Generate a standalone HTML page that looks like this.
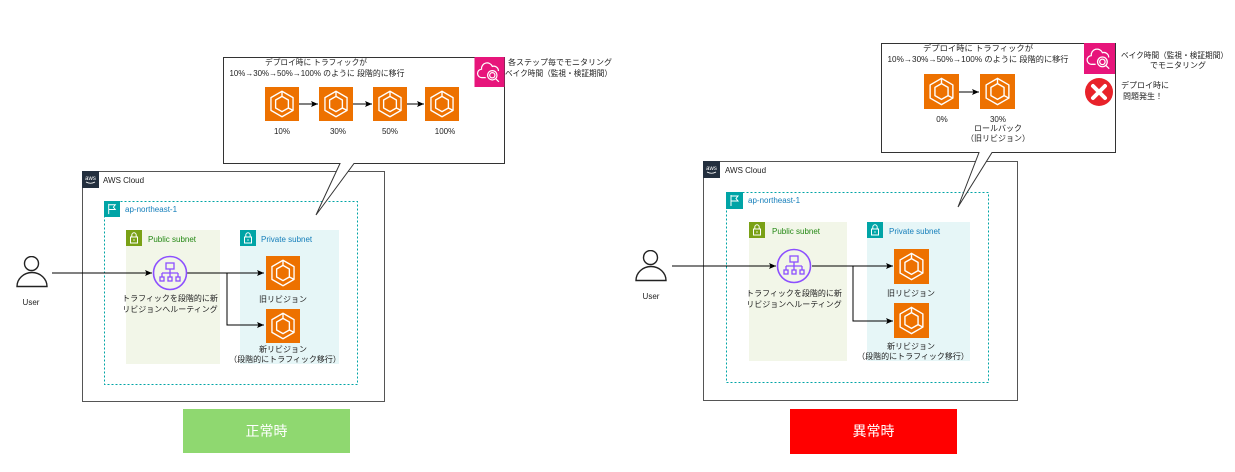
<!DOCTYPE html>
<html><head><meta charset="utf-8"><style>
html,body{margin:0;padding:0;background:#fff;width:1235px;height:472px;overflow:hidden}
svg{display:block}
text{font-family:"Liberation Sans","Noto Sans CJK JP",sans-serif;font-size:8px;fill:#222}
</style></head><body>
<svg xmlns="http://www.w3.org/2000/svg" width="1235" height="472" viewBox="0 0 1235 472">
<defs>
<symbol id="ecs" viewBox="0 0 40 40">
<rect width="40" height="40" fill="#ed7100"/>
<g fill="none" stroke="#fff" stroke-width="1.6" stroke-linejoin="round">
<path d="M20 5 L33 12.5 V27.5 L20 35 L7 27.5 V12.5 Z"/>
<path d="M20 11 L27.5 15.3 V24.7 L20 29 L12.5 24.7 V15.3 Z"/>
<path d="M20 5 V11 M33 27.5 L27.5 24.7"/>
</g></symbol>
<symbol id="elb" viewBox="0 0 36 36">
<circle cx="18" cy="18" r="16.5" fill="none" stroke="#8c4fff" stroke-width="1.6"/>
<g fill="none" stroke="#8c4fff" stroke-width="1.3">
<rect x="14" y="8" width="8" height="6"/>
<path d="M18 14 V18 M10 18 H26 M10 18 V22 M18 18 V22 M26 18 V22"/>
<rect x="8" y="22" width="4" height="4"/><rect x="16" y="22" width="4" height="4"/><rect x="24" y="22" width="4" height="4"/>
</g></symbol>
<symbol id="cw" viewBox="0 0 32 32">
<rect width="32" height="32" fill="#e7157b"/>
<g fill="none" stroke="#fff" stroke-width="1.3">
<path d="M12 22 H8 A4.5 4.5 0 0 1 7.5 13 A6 6 0 0 1 19 10 A5 5 0 0 1 25.5 15"/>
<circle cx="19" cy="19.5" r="5"/><circle cx="19" cy="19.5" r="2.8"/>
<path d="M22.5 23 L26 26.5"/>
</g></symbol>
<symbol id="lockg" viewBox="0 0 16 16"><rect width="16" height="16" fill="#7aa116"/><g fill="none" stroke="#fff" stroke-width="1"><rect x="4.5" y="7" width="7" height="6"/><path d="M5.8 7 V5 A2.2 2.2 0 0 1 10.2 5 V7"/><path d="M8 9.3 V10.8"/></g></symbol>
<symbol id="lockt" viewBox="0 0 16 16"><rect width="16" height="16" fill="#00a4a6"/><g fill="none" stroke="#fff" stroke-width="1"><rect x="4.5" y="7" width="7" height="6"/><path d="M5.8 7 V5 A2.2 2.2 0 0 1 10.2 5 V7"/><path d="M8 9.3 V10.8"/></g></symbol>
<symbol id="flag" viewBox="0 0 17 17"><rect width="17" height="17" fill="#00a4a6"/><g fill="none" stroke="#fff" stroke-width="1"><path d="M5 3 V14 M5 4 H12 L10 6.5 L12 9 H5"/></g></symbol>
<symbol id="aws" viewBox="0 0 17 17"><rect width="17" height="17" fill="#232f3e"/><text x="8.5" y="9" text-anchor="middle" style="font-size:6px;fill:#fff">aws</text><path d="M4 11 Q8.5 13.5 13 11" fill="none" stroke="#fff" stroke-width="0.8"/></symbol>
<symbol id="user" viewBox="0 0 32 32"><g fill="none" stroke="#222" stroke-width="1.4"><circle cx="15.5" cy="7.5" r="7"/><path d="M1 30.5 A15 14 0 0 1 31 30.5 Z"/></g></symbol>
<marker id="ah" markerWidth="8" markerHeight="8" refX="7" refY="4" orient="auto" markerUnits="userSpaceOnUse"><path d="M0,1 L7,4 L0,7 L1.5,4 Z" fill="#000"/></marker>
</defs>

<!-- ================= LEFT ================= -->
<rect x="82.5" y="171.5" width="302" height="230" fill="#fff" stroke="#555" stroke-width="1"/>
<use href="#aws" x="82" y="171" width="17" height="17"/>
<text x="103" y="183">AWS Cloud</text>
<rect x="104.5" y="201.5" width="253" height="183" fill="none" stroke="#00a4a6" stroke-width="1" stroke-dasharray="2,2"/>
<use href="#flag" x="104" y="201" width="16" height="16"/>
<text x="125" y="212" style="fill:#147eba">ap-northeast-1</text>
<rect x="126" y="230" width="94" height="134" fill="#f2f6e8"/>
<use href="#lockg" x="126" y="230" width="16" height="16"/>
<text x="148" y="242" style="fill:#248814">Public subnet</text>
<rect x="240" y="230" width="99" height="134" fill="#e6f6f7"/>
<use href="#lockt" x="240" y="230" width="16" height="16"/>
<text x="261" y="242" style="fill:#147eba">Private subnet</text>

<use href="#user" x="16" y="256" width="32" height="32"/>
<text x="31" y="305" text-anchor="middle">User</text>

<g fill="none" stroke="#000" stroke-width="1">
<path d="M52 273 H152" marker-end="url(#ah)"/>
<path d="M187 273 H264" marker-end="url(#ah)"/>
<path d="M227 273 V325 H264" marker-end="url(#ah)"/>
</g>
<use href="#elb" x="152" y="255" width="36" height="36"/>
<text x="170" y="301" text-anchor="middle">トラフィックを段階的に新</text>
<text x="170" y="312" text-anchor="middle">リビジョンへルーティング</text>

<use href="#ecs" x="266" y="256" width="34" height="34"/>
<text x="283" y="302" text-anchor="middle">旧リビジョン</text>
<use href="#ecs" x="266" y="309" width="34" height="34"/>
<text x="283" y="352" text-anchor="middle">新リビジョン</text>
<text x="285" y="362" text-anchor="middle">（段階的にトラフィック移行）</text>

<rect x="183" y="409" width="167" height="44" fill="#8fd870"/>
<text x="266.5" y="436" text-anchor="middle" style="font-size:14px;fill:#fff">正常時</text>

<!-- left callout -->
<path d="M223.5 57.5 H504.5 V163.5 H354 L316 215 L340 163.5 H223.5 Z" fill="#fff" stroke="#333" stroke-width="1"/>
<use href="#cw" x="474" y="57" width="31" height="30"/>
<text x="316" y="65" text-anchor="middle" textLength="102" lengthAdjust="spacingAndGlyphs">デプロイ時に トラフィックが</text>
<text x="317" y="76" text-anchor="middle" textLength="175" lengthAdjust="spacingAndGlyphs">10%→30%→50%→100% のように 段階的に移行</text>
<text x="508" y="65" textLength="104" lengthAdjust="spacingAndGlyphs">各ステップ毎でモニタリング</text>
<text x="505" y="76" textLength="107" lengthAdjust="spacingAndGlyphs">ベイク時間（監視・検証期間）</text>
<use href="#ecs" x="265" y="87" width="34" height="34"/>
<use href="#ecs" x="319" y="87" width="34" height="34"/>
<use href="#ecs" x="373" y="87" width="34" height="34"/>
<use href="#ecs" x="425" y="87" width="34" height="34"/>
<g fill="none" stroke="#000" stroke-width="1">
<path d="M299 104 H318" marker-end="url(#ah)"/>
<path d="M353 104 H372" marker-end="url(#ah)"/>
<path d="M407 104 H424" marker-end="url(#ah)"/>
</g>
<text x="282" y="134" text-anchor="middle">10%</text>
<text x="338" y="134" text-anchor="middle">30%</text>
<text x="390" y="134" text-anchor="middle">50%</text>
<text x="445" y="134" text-anchor="middle">100%</text>

<!-- ================= RIGHT ================= -->
<rect x="703.5" y="161.5" width="314" height="239" fill="#fff" stroke="#555" stroke-width="1"/>
<use href="#aws" x="703" y="161" width="17" height="17"/>
<text x="725" y="173">AWS Cloud</text>
<rect x="726.5" y="192.5" width="262" height="190" fill="none" stroke="#00a4a6" stroke-width="1" stroke-dasharray="2,2"/>
<use href="#flag" x="726" y="192" width="17" height="17"/>
<text x="748" y="203" style="fill:#147eba">ap-northeast-1</text>
<rect x="749" y="222" width="98" height="139" fill="#f2f6e8"/>
<use href="#lockg" x="749" y="222" width="16" height="16"/>
<text x="772" y="234" style="fill:#248814">Public subnet</text>
<rect x="867" y="222" width="103" height="139" fill="#e6f6f7"/>
<use href="#lockt" x="867" y="222" width="16" height="16"/>
<text x="889" y="234" style="fill:#147eba">Private subnet</text>

<use href="#user" x="635" y="250" width="32" height="32"/>
<text x="651" y="299" text-anchor="middle">User</text>

<g fill="none" stroke="#000" stroke-width="1">
<path d="M672 266 H776" marker-end="url(#ah)"/>
<path d="M812 266 H893" marker-end="url(#ah)"/>
<path d="M853 266 V321 H893" marker-end="url(#ah)"/>
</g>
<use href="#elb" x="776" y="248" width="36" height="36"/>
<text x="794" y="296" text-anchor="middle">トラフィックを段階的に新</text>
<text x="794" y="307" text-anchor="middle">リビジョンへルーティング</text>

<use href="#ecs" x="894" y="249" width="35" height="35"/>
<text x="911" y="296" text-anchor="middle">旧リビジョン</text>
<use href="#ecs" x="894" y="303" width="35" height="35"/>
<text x="911" y="349" text-anchor="middle">新リビジョン</text>
<text x="913" y="359" text-anchor="middle">（段階的にトラフィック移行）</text>

<rect x="790" y="409" width="167" height="45" fill="#ff0000"/>
<text x="873.5" y="436" text-anchor="middle" style="font-size:14px;fill:#fff">異常時</text>

<!-- right callout -->
<path d="M881.5 43.5 H1115.5 V152.5 H992 L958 207 L979 152.5 H881.5 Z" fill="#fff" stroke="#333" stroke-width="1"/>
<use href="#cw" x="1083" y="43" width="33" height="31"/>
<circle cx="1099" cy="92" r="14" fill="#e8222a"/>
<path d="M1093 86 L1105 98 M1105 86 L1093 98" stroke="#fff" stroke-width="4" stroke-linecap="round"/>
<text x="978" y="51" text-anchor="middle" textLength="110" lengthAdjust="spacingAndGlyphs">デプロイ時に トラフィックが</text>
<text x="978" y="62" text-anchor="middle" textLength="181" lengthAdjust="spacingAndGlyphs">10%→30%→50%→100% のように 段階的に移行</text>
<use href="#ecs" x="924" y="74" width="35" height="35"/>
<use href="#ecs" x="980" y="74" width="35" height="35"/>
<path d="M959 92 H979" fill="none" stroke="#000" stroke-width="1" marker-end="url(#ah)"/>
<text x="942" y="122" text-anchor="middle">0%</text>
<text x="998" y="122" text-anchor="middle">30%</text>
<text x="998" y="131" text-anchor="middle">ロールバック</text>
<text x="998" y="141" text-anchor="middle">（旧リビジョン）</text>
<text x="1121" y="58" textLength="107" lengthAdjust="spacingAndGlyphs">ベイク時間（監視・検証期間）</text>
<text x="1178" y="68" text-anchor="middle">でモニタリング</text>
<text x="1121" y="88">デプロイ時に</text>
<text x="1123" y="99">問題発生！</text>
</svg>
</body></html>
